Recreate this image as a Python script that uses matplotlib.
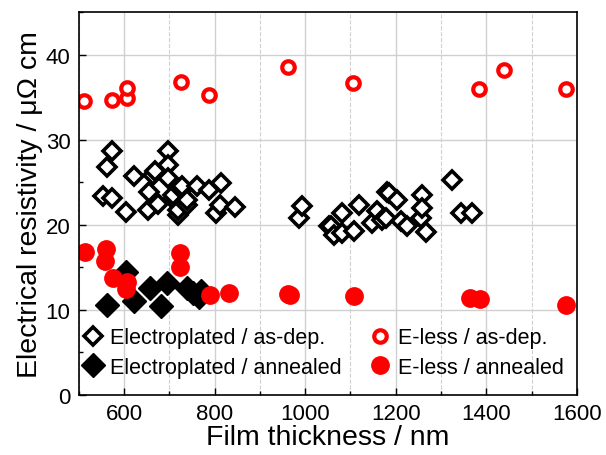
import matplotlib
matplotlib.use("Agg")
from matplotlib import pyplot as plt
from matplotlib.ticker import MultipleLocator

plt.rcParams["font.family"] = ["Liberation Sans", "DejaVu Sans"]

# Electroplated / as-dep.
ep_dep_x = [553, 562, 573, 573, 604, 623, 652, 656, 665, 668, 672, 674, 696, 698, 698,
            709, 709, 718, 718, 729, 729, 740, 740, 762, 787, 804, 811, 813, 844,
            987, 992, 1053, 1058, 1064, 1082, 1082, 1108, 1119, 1148, 1159, 1170, 1179,
            1181, 1186, 1203, 1212, 1225, 1256, 1258, 1258, 1267, 1325, 1345, 1369]
ep_dep_y = [23.4, 26.8, 28.7, 23.2, 21.5, 25.7, 21.7, 23.8, 25.8, 26.3, 22.5, 22.4, 28.7, 27.0, 25.5,
            23.0, 23.5, 21.2, 21.7, 24.1, 24.5, 22.3, 22.9, 24.5, 24.1, 21.4, 22.3, 24.9, 22.1,
            20.8, 22.2, 19.8, 19.9, 18.8, 21.4, 19.0, 19.3, 22.3, 20.2, 21.6, 20.5, 20.8,
            23.9, 23.7, 22.9, 20.4, 19.8, 20.8, 23.5, 22.0, 19.2, 25.3, 21.4, 21.4]

# Electroplated / annealed
ep_ann_x = [562, 604, 623, 657, 681, 694, 738, 752, 765, 770]
ep_ann_y = [10.6, 14.5, 11.0, 12.6, 10.4, 13.1, 12.6, 12.0, 11.5, 12.2]

# E-less / as-dep.
el_dep_x = [511, 573, 606, 606, 725, 787, 963, 1106, 1384, 1439, 1576]
el_dep_y = [34.5, 34.6, 34.9, 36.1, 36.8, 35.3, 38.5, 36.6, 36.0, 38.2, 35.9]

# E-less / annealed
el_ann_x = [513, 560, 557, 575, 604, 606, 723, 723, 789, 831, 963, 967, 1108, 1364, 1386, 1576]
el_ann_y = [16.8, 17.2, 15.8, 13.7, 12.5, 13.3, 16.7, 15.0, 11.7, 12.0, 11.9, 11.8, 11.6, 11.4, 11.3, 10.6]

fig = plt.figure(figsize=(6.06, 4.56), dpi=100)
ax = fig.add_axes([0.130, 0.1316, 0.822, 0.840])

ax.plot(ep_dep_x, ep_dep_y, ls="none", marker="D", ms=9.5, mfc="white", mec="black", mew=2.6,
        label="Electroplated / as-dep.")
ax.plot(ep_ann_x, ep_ann_y, ls="none", marker="D", ms=12, mfc="black", mec="black", mew=1,
        label="Electroplated / annealed")
ax.plot(el_dep_x, el_dep_y, ls="none", marker="o", ms=9, mfc="white", mec="red", mew=3,
        label="E-less / as-dep.")
ax.plot(el_ann_x, el_ann_y, ls="none", marker="o", ms=12.5, mfc="red", mec="red", mew=1,
        label="E-less / annealed")

ax.set_xlim(500, 1600)
ax.set_ylim(0, 45)
ax.xaxis.set_major_locator(MultipleLocator(200))
ax.xaxis.set_minor_locator(MultipleLocator(100))
ax.yaxis.set_major_locator(MultipleLocator(10))
ax.yaxis.set_minor_locator(MultipleLocator(5))
ax.tick_params(which="both", direction="in", labelsize=16, pad=6)
ax.tick_params(which="major", length=5, width=1)
ax.tick_params(which="minor", length=3, width=1)
ax.grid(which="major", color="#d0d0d0", lw=1, ls="-")
ax.grid(which="minor", axis="x", color="#d0d0d0", lw=0.8, ls="--")
ax.set_axisbelow(True)
for s in ax.spines.values():
    s.set_linewidth(1.2)

ax.set_xlabel("Film thickness / nm", fontsize=20.5, labelpad=0)
ax.set_ylabel("Electrical resistivity / \u03bc\u03a9 cm", fontsize=20.5, labelpad=2)

handles, labels = ax.get_legend_handles_labels()
ax.legend(handles, labels, loc="lower left", ncol=2, frameon=False, fontsize=15.5,
          handletextpad=0.2, columnspacing=1.2, labelspacing=0.4, handlelength=1.2,
          borderaxespad=0, bbox_to_anchor=(-0.015, 0.022))

fig.savefig("out.png", dpi=100)
